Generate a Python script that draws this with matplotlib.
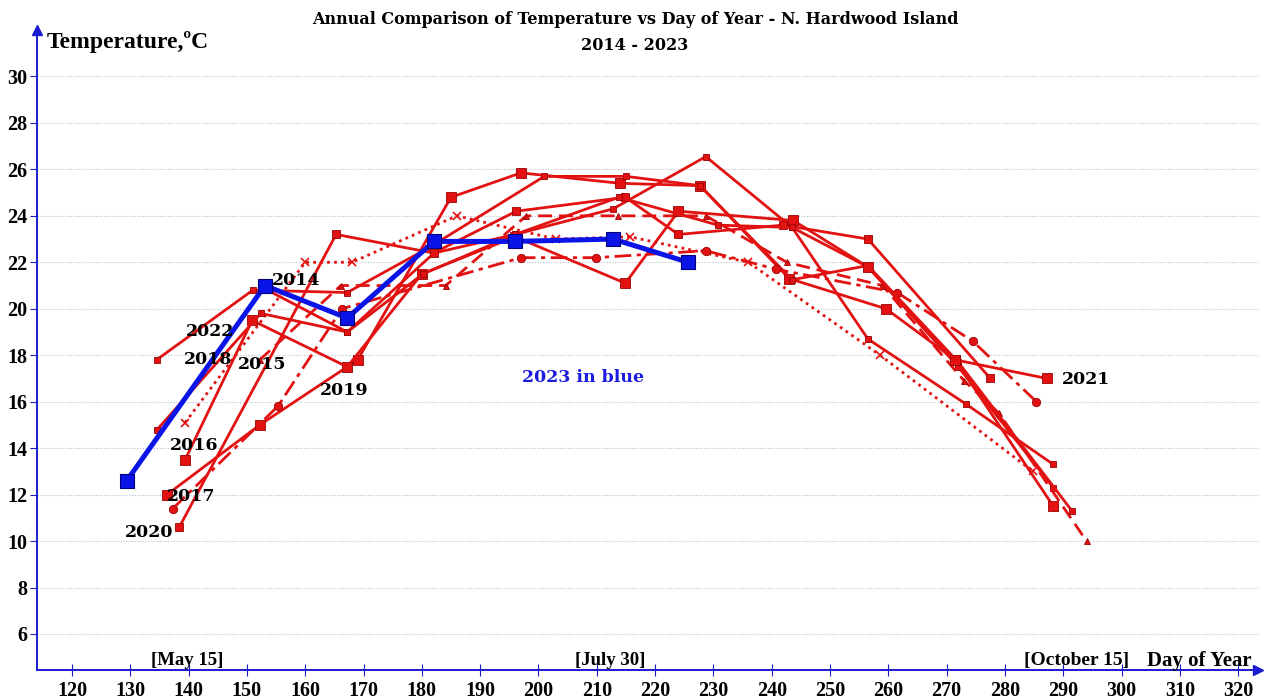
import matplotlib
matplotlib.use('Agg')
import matplotlib.pyplot as plt

# blue year (2023)
days_2023 = [129.4, 153.1, 167.2, 182.1, 196.0, 212.8, 225.7]
temps_2023 = [12.6, 21.0, 19.6, 22.9, 22.9, 23.0, 22.0]

# red years
days_2014 = [152.8, 167.2, 182.1, 196.0, 212.8, 228.7, 243.5, 256.5, 272.0, 288.3]
temps_2014 = [20.9, 19.0, 22.4, 23.2, 24.3, 26.55, 23.5, 21.8, 17.5, 12.3]
days_2015 = [152.2, 166.1, 184.1, 197.9, 213.7, 228.7, 242.6, 259.0, 273.0, 279.0, 294.0]
temps_2015 = [17.8, 21.0, 21.0, 24.0, 24.0, 24.0, 22.0, 21.0, 16.9, 15.5, 10.0]
days_2016 = [139.4, 160.0, 168.0, 186.0, 203.0, 215.7, 236.0, 258.6, 284.8]
temps_2016 = [15.1, 22.0, 22.0, 24.0, 23.0, 23.1, 22.0, 18.0, 13.0]
days_2017 = [136.3, 152.2, 169.0, 185.0, 197.0, 214.0, 227.7, 243.0, 259.6, 271.5, 288.3]
temps_2017 = [12.0, 15.0, 17.8, 24.8, 25.85, 25.4, 25.3, 21.3, 20.0, 17.8, 11.5]
days_2018 = [134.5, 151.0, 167.2, 181.0, 201.0, 215.0, 227.7, 243.5, 256.5, 272.0, 291.5]
temps_2018 = [17.8, 20.8, 20.7, 22.6, 25.7, 25.7, 25.3, 21.25, 21.86, 17.7, 11.3]
days_2019 = [137.3, 155.3, 166.3, 197.0, 209.8, 228.7, 240.8, 261.5, 274.5, 285.4]
temps_2019 = [11.4, 15.8, 20.0, 22.2, 22.2, 22.5, 21.7, 20.7, 18.6, 16.0]
days_2020 = [138.4, 165.3, 182.0, 196.2, 214.9, 224.0, 242.0, 256.5, 277.5]
temps_2020 = [10.6, 23.2, 22.4, 24.2, 24.8, 23.2, 23.6, 23.0, 17.0]
days_2021 = [139.4, 150.9, 167.2, 180.0, 196.0, 214.9, 224.0, 243.7, 256.5, 271.5, 287.2]
temps_2021 = [13.5, 19.5, 17.5, 21.5, 23.1, 21.1, 24.2, 23.8, 21.8, 17.8, 17.0]
days_2022 = [134.6, 152.4, 167.2, 180.2, 196.0, 213.8, 230.8, 243.5, 256.5, 273.3, 288.3]
temps_2022 = [14.8, 19.8, 19.0, 21.5, 23.2, 24.8, 23.6, 23.5, 18.7, 15.9, 13.3]

year_labels = ['2014', '2022', '2018', '2015', '2019', '2016', '2017', '2020', '2021']
label_x = [158.4, 143.7, 143.3, 152.6, 166.7, 140.9, 140.4, 133.2, 293.9]
label_y = [21.2, 19.0, 17.8, 17.6, 16.5, 14.1, 11.9, 10.35, 16.95]

x_ticks = list(range(120, 330, 10))
y_ticks = list(range(6, 32, 2))

red = '#e31212'
edge = '#9a0000'
blue = '#1a1ad0'
serif = 'Liberation Serif'
wide = 'DejaVu Serif'

fig = plt.figure(figsize=(12.7, 7), dpi=100)
ax = fig.add_axes([37/1270, 30/700, 1221/1270, 640/700])
ax.set_xlim(114, 323.4)
ax.set_ylim(4.45, 32.0)

for t in y_ticks:
    ax.axhline(t, color='#b8bfd0', lw=0.8, ls=(0, (1, 1.5)), zorder=0)

solid = dict(color=red, lw=2.0, marker='s', mec=edge, mew=0.6, mfc=red)
ax.plot(days_2014, temps_2014, ms=5, **solid)
ax.plot(days_2015, temps_2015, color=red, lw=2.0, ls=(0, (5, 2.5)), marker='^', ms=5, mec=edge, mew=0.6)
ax.plot(days_2016, temps_2016, color=red, lw=2.0, ls=(0, (1, 1.5)), marker='x', ms=6, mew=1.2)
ax.plot(days_2017, temps_2017, ms=7, **solid)
ax.plot(days_2018, temps_2018, ms=5, **solid)
ax.plot(days_2019, temps_2019, color=red, lw=2.0, ls=(0, (6, 2, 1.5, 2)), marker='o', ms=6, mec=edge, mew=0.6)
ax.plot(days_2020, temps_2020, ms=6, **solid)
ax.plot(days_2021, temps_2021, ms=7, **solid)
ax.plot(days_2022, temps_2022, ms=5, **solid)

ax.plot(days_2023, temps_2023, color='#0a14e6', lw=3.6, marker='s', ms=9.5,
        mec='#00007a', mew=0.8, zorder=5)

for lab, lx, ly in zip(year_labels, label_x, label_y):
    ax.text(lx, ly, lab, ha='center', va='center', fontsize=12.5, fontweight='bold',
            family=wide, zorder=6)
ax.text(207.7, 17.03, '2023 in blue', ha='center', va='center', fontsize=12.5,
        fontweight='bold', family=wide, color='#1c1ce0')

# axes: blue arrows at left and bottom
for s in ['top', 'right']:
    ax.spines[s].set_visible(False)
for s in ['left', 'bottom']:
    ax.spines[s].set_color(blue)
    ax.spines[s].set_linewidth(1.4)
ax.plot(0, 1, '^', color=blue, ms=7, transform=ax.transAxes, clip_on=False)
ax.plot(1, 0, '>', color=blue, ms=7, transform=ax.transAxes, clip_on=False)

tick_font = dict(fontsize=14.5, fontweight='bold', family=serif)
ax.set_xticks(x_ticks, labels=[str(v) for v in x_ticks], **tick_font)
ax.set_yticks(y_ticks, labels=[str(v) for v in y_ticks], **tick_font)
ax.tick_params(axis='x', direction='inout', length=8, color=blue, pad=4)
ax.tick_params(axis='y', direction='out', length=5, color=blue, pad=2)

ax.text(139.7, 4.84, '[May 15]', ha='center', va='center', fontsize=13.5, fontweight='bold', family=serif)
ax.text(212.3, 4.84, '[July 30]', ha='center', va='center', fontsize=13.5, fontweight='bold', family=serif)
ax.text(292.2, 4.84, '[October 15]', ha='center', va='center', fontsize=14, fontweight='bold', family=serif)
ax.text(313.3, 4.84, 'Day of Year', ha='center', va='center', fontsize=15, fontweight='bold', family=serif)

fig.text(47/1270, 1 - 42/700, 'Temperature,ºC', ha='left', va='center', fontsize=17,
         fontweight='bold', family=serif)
fig.text(635/1270, 1 - 19/700, 'Annual Comparison of Temperature vs Day of Year - N. Hardwood Island',
         ha='center', va='center', fontsize=11.5, fontweight='bold', family=wide)
fig.text(635/1270, 1 - 46/700, '2014 - 2023', ha='center', va='center', fontsize=11.5,
         fontweight='bold', family=wide)

fig.savefig('out.png', dpi=100)
